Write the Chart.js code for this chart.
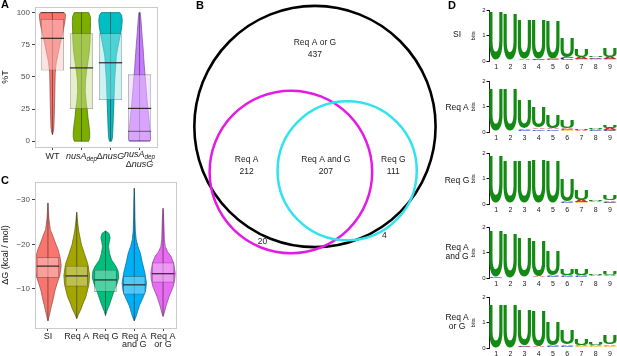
<!DOCTYPE html>
<html lang="en">
<head>
<meta charset="UTF-8" />
<title>Figure</title>
<script src="https://cdn.jsdelivr.net/npm/chart.js@4.4.0/dist/chart.umd.min.js"></script>
<style>
  body { margin: 0; background: #fff; font-family: "Liberation Sans", Arial, sans-serif; }
  #fig { position: relative; width: 617px; height: 356px; overflow: hidden; }
  canvas { position: absolute; }
  .tag { position: absolute; font-weight: bold; font-size: 11px; line-height: 11px; }
  .row { position: absolute; left: 437px; width: 40px; text-align: center; font-size: 8.5px; line-height: 8.5px; color: #111; }
</style>
</head>
<body>
<div id="fig">
  <canvas id="chartA" width="172" height="172" style="left:0;top:0"></canvas>
  <canvas id="chartC" width="180" height="184" style="left:0;top:172px"></canvas>
  <canvas id="chartB" width="270" height="260" style="left:185px;top:0"></canvas>
  <canvas id="logo0" width="147" height="68" style="left:470px;top:6px"></canvas>
  <canvas id="logo1" width="147" height="68" style="left:470px;top:77px"></canvas>
  <canvas id="logo2" width="147" height="68" style="left:470px;top:149px"></canvas>
  <canvas id="logo3" width="147" height="68" style="left:470px;top:223px"></canvas>
  <canvas id="logo4" width="147" height="68" style="left:470px;top:293px"></canvas>
  <div class="tag" style="left:1px;top:-1px">A</div>
  <div class="tag" style="left:196px;top:0">B</div>
  <div class="tag" style="left:1px;top:175px">C</div>
  <div class="tag" style="left:448px;top:0">D</div>
  <div class="row" style="top:30px">SI</div>
  <div class="row" style="top:103px">Req A</div>
  <div class="row" style="top:176px">Req G</div>
  <div class="row" style="top:243px">Req A<br>and G</div>
  <div class="row" style="top:313px">Req A<br>or G</div>
</div>
<script>
  // ---- panel A: %T by genotype ----
  const genotypes = ["WT", "*nusA*_dep_", "Δ*nusG*", "*nusA*_dep_\nΔ*nusG*"];
  const colorsA = ["#F8766D", "#7CAE00", "#00BFC4", "#C77CFF"];
  const q1A = [55, 25, 32, 0];
  const medA = [80, 57, 61, 25.5];
  const q3A = [95, 84, 84, 52];
  const minA = [5, 0, 0, 0];
  const maxA = [100, 100, 100, 100];
  const quantLinesA = [[100], [], [], [7.7]];
  // violin outlines: [value, relative density]
  const wtViolin = [[5,0],[8,0.08],[11,0.11],[20,0.14],[31,0.17],[42,0.19],[53,0.21],[61,0.29],[68,0.43],[76,0.59],[83.5,0.77],[91,0.92],[96,0.99],[98.5,1],[100,0.9]];
  const nusAViolin = [[0,0.55],[3,0.63],[7,0.63],[12,0.58],[18,0.5],[24,0.45],[30,0.36],[38,0.29],[46,0.3],[54,0.38],[62,0.5],[70,0.6],[78,0.66],[86,0.68],[93,0.7],[97,0.68],[100,0.55]];
  const nusGViolin = [[0,0.08],[3,0.15],[11,0.19],[20,0.22],[31,0.26],[40,0.29],[48,0.32],[57,0.38],[66,0.44],[74,0.58],[81,0.72],[88,0.85],[94,0.9],[98,0.85],[100,0.7]];
  const doubleViolin = [[0,0.78],[2,0.83],[6,0.82],[10,0.78],[16,0.73],[23,0.66],[31,0.58],[41,0.5],[51,0.42],[60,0.35],[68,0.3],[75,0.25],[81,0.2],[88,0.15],[94,0.11],[100,0.05]];
  const percentTicks = [0, 25, 50, 75, 100];

  // ---- panel C: dG by group ----
  const groups = ["SI", "Req A", "Req G", ["Req A", "and G"], ["Req A", "or G"]];
  const colorsC = ["#F8766D", "#A3A500", "#00BF7D", "#00B0F6", "#E76BF3"];
  const q1C = [-17.1, -15.2, -14.3, -12.9, -15.9];
  const medC = [-15.1, -12.9, -12.0, -10.9, -13.4];
  const q3C = [-12.5, -10.5, -9.3, -8.7, -11.4];
  const minC = [-29.3, -27.2, -23, -32.6, -28.1];
  const maxC = [-2.8, -3.3, -4, -2.8, -3.8];
  const siViolin = [[-29.3,0],[-27,0.04],[-25.5,0.08],[-23.3,0.18],[-21.8,0.38],[-20,0.6],[-18.8,0.77],[-17,0.92],[-15.2,1],[-13,0.9],[-11.3,0.7],[-9.5,0.52],[-7.5,0.38],[-6,0.25],[-4.6,0.15],[-3.5,0.06],[-2.8,0]];
  const reqAViolin = [[-27.2,0],[-25,0.07],[-23,0.15],[-21.8,0.23],[-20,0.35],[-17.9,0.58],[-15.5,0.85],[-13,0.97],[-11,0.92],[-8.3,0.7],[-6.5,0.45],[-5.3,0.3],[-4.2,0.12],[-3.3,0]];
  const reqGViolin = [[-23,0],[-22.5,0.25],[-21.5,0.35],[-20.5,0.28],[-19.5,0.23],[-18,0.3],[-16.5,0.46],[-15,0.8],[-14,0.95],[-12.5,1],[-11,0.85],[-9.1,0.6],[-7.5,0.42],[-6.2,0.27],[-5,0.1],[-4,0]];
  const andViolin = [[-32.6,0],[-30,0.03],[-26,0.05],[-23,0.08],[-21,0.15],[-19.5,0.28],[-18,0.46],[-16,0.6],[-13.6,0.8],[-11.3,0.92],[-9.5,0.85],[-8.3,0.7],[-6.2,0.38],[-3.9,0.15],[-2.8,0]];
  const orViolin = [[-28.1,0],[-26,0.05],[-23,0.08],[-21,0.1],[-19.5,0.17],[-18.3,0.35],[-17.3,0.6],[-15.8,0.8],[-13.5,0.92],[-12,0.88],[-10.5,0.77],[-8.3,0.46],[-6.2,0.23],[-4.5,0.08],[-3.8,0]];
  const dgTicks = [-30, -20, -10];

  // ---- panel B: Venn ----
  const vennSets = ["Req A or G", "Req A", "Req G"];
  const regionNames = ["Req A or G", "Req A", "Req A and G", "Req G", "", ""];
  const regionCounts = [437, 212, 207, 111, 20, 4];
  const vennCenters = [[0, 0], [-6.2, -11.7], [8.3, -11.4]];
  const regionPos = [[0, 21.5], [-17.6, -8.5], [2.8, -8.5], [20.2, -8.5], [-13.5, -29.8], [17.9, -28.2]];
  const vennColors = ["#000000", "#E41BE4", "#30E3EE"];

  // ---- panel D: sequence logos (bits per position) ----
  const logoRows = ["SI", "Req A", "Req G", "Req A and G", "Req A or G"];
  const positions = ["1", "2", "3", "4", "5", "6", "7", "8", "9"];
  const uBits = [
    [1.91, 1.82, 1.55, 1.54, 1.47, 0.77, 0.32, 0.05, 0.34],
    [1.65, 1.64, 1.12, 0.8, 0.5, 0.3, 0.04, 0.04, 0.1],
    [1.83, 1.63, 1.62, 1.69, 1.65, 0.88, 0.43, 0.03, 0.19],
    [1.78, 1.74, 1.54, 1.4, 0.98, 0.27, 0.24, 0.03, 0.16],
    [1.67, 1.67, 1.39, 1.37, 0.92, 0.55, 0.27, 0.08, 0.33]
  ];
  const aBits = [
    [0.02, 0.02, 0.03, 0.04, 0.04, 0.05, 0.08, 0.06, 0.08],
    [0.02, 0.02, 0.06, 0.07, 0.07, 0.06, 0.03, 0.06, 0.08],
    [0.01, 0.02, 0.02, 0.02, 0.02, 0.05, 0.08, 0.05, 0.06],
    [0.01, 0.01, 0.02, 0.03, 0.03, 0.06, 0.06, 0.04, 0.05],
    [0.01, 0.01, 0.03, 0.03, 0.05, 0.06, 0.06, 0.05, 0.07]
  ];
  const cBits = [
    [0.02, 0.02, 0.02, 0.03, 0.03, 0.08, 0.03, 0.03, 0.03],
    [0.01, 0.02, 0.05, 0.06, 0.06, 0.05, 0.01, 0.03, 0.04],
    [0.01, 0.01, 0.01, 0.01, 0.01, 0.03, 0.03, 0.02, 0.03],
    [0.03, 0.01, 0.02, 0.02, 0.06, 0.03, 0.03, 0.02, 0.02],
    [0.01, 0.01, 0.03, 0.02, 0.03, 0.04, 0.02, 0.02, 0.02]
  ];
  const gBits = [
    [0.01, 0.01, 0.03, 0.02, 0.03, 0.03, 0.06, 0.06, 0.06],
    [0.02, 0.02, 0.04, 0.04, 0.04, 0.06, 0.02, 0.04, 0.05],
    [0.02, 0.01, 0.02, 0.01, 0.02, 0.04, 0.06, 0.04, 0.05],
    [0.01, 0.01, 0.02, 0.02, 0.02, 0.04, 0.04, 0.04, 0.04],
    [0.01, 0.01, 0.02, 0.02, 0.03, 0.04, 0.05, 0.05, 0.05]
  ];

  Chart.defaults.font.family = '"Liberation Sans", Arial, sans-serif';
  const FONT = '"Liberation Sans", Arial, sans-serif';

  function rgb(hex) {
    const n = parseInt(hex.slice(1), 16);
    return [(n >> 16) & 255, (n >> 8) & 255, n & 255];
  }
  function shade(hex, f) {
    const [r, g, b] = rgb(hex);
    return `rgb(${(r * f) | 0},${(g * f) | 0},${(b * f) | 0})`;
  }
  function boxFill(hex) {
    const [r, g, b] = rgb(hex).map((c) => Math.round(c * 0.4 + 255 * 0.6));
    return `rgba(${r},${g},${b},0.5)`;
  }

  // frame round the plot + violins under the boxes
  function violinPlugin(profiles, colors, lows, highs, medians, extra, halfFrac) {
    return {
      id: "violins",
      beforeDatasetsDraw(chart) {
        const { ctx, chartArea: a, scales: { x, y } } = chart;
        const half = halfFrac * (x.getPixelForValue(2) - x.getPixelForValue(1));
        ctx.save();
        ctx.beginPath();
        ctx.rect(a.left, a.top, a.width, a.height);
        ctx.clip();
        profiles.forEach((prof, i) => {
          const cx = x.getPixelForValue(i + 1);
          ctx.beginPath();
          prof.forEach(([v, w]) => ctx.lineTo(cx + w * half, y.getPixelForValue(v)));
          for (let k = prof.length - 1; k >= 0; k--) {
            ctx.lineTo(cx - prof[k][1] * half, y.getPixelForValue(prof[k][0]));
          }
          ctx.closePath();
          ctx.fillStyle = colors[i];
          ctx.fill();
          ctx.strokeStyle = shade(colors[i], 0.6);
          ctx.lineWidth = 0.7;
          ctx.stroke();
          ctx.beginPath();
          ctx.moveTo(cx, y.getPixelForValue(lows[i]));
          ctx.lineTo(cx, y.getPixelForValue(highs[i]));
          ctx.strokeStyle = "rgba(30,30,30,0.75)";
          ctx.lineWidth = 0.7;
          ctx.stroke();
        });
        ctx.restore();
      },
      afterDatasetsDraw(chart) {
        const { ctx, chartArea: a, scales: { x, y } } = chart;
        const meta = chart.getDatasetMeta(0);
        ctx.save();
        meta.data.forEach((bar, i) => {
          const w = bar.width / 2;
          const cx = x.getPixelForValue(i + 1);
          ctx.beginPath();
          ctx.moveTo(cx - w, y.getPixelForValue(medians[i]));
          ctx.lineTo(cx + w, y.getPixelForValue(medians[i]));
          ctx.strokeStyle = "#2a2a2a";
          ctx.lineWidth = 1.2;
          ctx.stroke();
          (extra[i] || []).forEach((v) => {
            ctx.beginPath();
            ctx.moveTo(cx - w, y.getPixelForValue(v));
            ctx.lineTo(cx + w, y.getPixelForValue(v));
            ctx.strokeStyle = "rgba(40,40,40,0.8)";
            ctx.lineWidth = 0.8;
            ctx.stroke();
          });
        });
        ctx.strokeStyle = "#CACACA";
        ctx.lineWidth = 1;
        ctx.strokeRect(Math.round(a.left) + 0.5, Math.round(a.top) + 0.5, Math.round(a.width), Math.round(a.height));
        ctx.restore();
      },
    };
  }

  // x labels of panel A with italic and subscript parts
  function drawRich(ctx, text, cx, baseline, size) {
    const segs = text.split(/(\*[^*]+\*|_[^_]+_)/).filter(Boolean).map((s) => {
      if (s[0] === "*") return { t: s.slice(1, -1), font: `italic ${size}px ${FONT}`, dy: 0 };
      if (s[0] === "_") return { t: s.slice(1, -1), font: `italic ${size * 0.7}px ${FONT}`, dy: size * 0.25 };
      return { t: s, font: `${size}px ${FONT}`, dy: 0 };
    });
    let w = 0;
    segs.forEach((s) => { ctx.font = s.font; s.w = ctx.measureText(s.t).width; w += s.w; });
    let xx = cx - w / 2;
    segs.forEach((s) => { ctx.font = s.font; ctx.fillText(s.t, xx, baseline + s.dy); xx += s.w; });
  }
  const genotypeLabels = {
    id: "genotypeLabels",
    afterDraw(chart) {
      const { ctx, chartArea: a, scales: { x } } = chart;
      ctx.save();
      ctx.fillStyle = "#1a1a1a";
      ctx.textBaseline = "alphabetic";
      genotypes.forEach((g, i) => {
        const lines = g.split("\n");
        const base = lines.length > 1 ? a.bottom + 10 : a.bottom + 12;
        lines.forEach((ln, k) => drawRich(ctx, ln, x.getPixelForValue(i + 1), base + k * 9.5, 9));
      });
      ctx.restore();
    },
  };

  const pos = (n) => Array.from({ length: n }, (_, i) => i + 1);

  // ---------- chart A ----------
  new Chart(document.getElementById("chartA"), {
    type: "bar",
    data: {
      datasets: [{
        data: q1A.map((q, i) => ({ x: i + 1, y: [q, q3A[i]] })),
        backgroundColor: colorsA.map(boxFill),
        borderColor: "rgba(90,90,90,0.6)",
        borderWidth: 0.8,
        borderSkipped: false,
        barPercentage: 0.8,
        categoryPercentage: 1,
      }],
    },
    options: {
      animation: false, responsive: false, events: [],
      plugins: { legend: { display: false }, tooltip: { enabled: false } },
      layout: { padding: { top: 2, right: 15, left: 0, bottom: 0 } },
      scales: {
        x: {
          type: "linear", min: 0.4, max: 4.6, offset: false,
          afterBuildTicks: (s) => { s.ticks = pos(4).map((v) => ({ value: v })); },
          afterFit: (s) => { s.height = 25; },
          ticks: { display: false },
          grid: { drawOnChartArea: false, tickLength: 3, color: "#444", offset: false },
          border: { display: false },
        },
        y: {
          min: -4.5, max: 104.5,
          afterBuildTicks: (s) => { s.ticks = percentTicks.map((v) => ({ value: v })); },
          afterFit: (s) => { s.width = 35; },
          ticks: { font: { size: 8 }, color: "#4D4D4D", padding: 2 },
          grid: { drawOnChartArea: false, tickLength: 3, color: "#444" },
          border: { display: false },
          title: { display: true, text: "%T", font: { size: 9 }, color: "#111", padding: 0 },
        },
      },
    },
    plugins: [violinPlugin([wtViolin, nusAViolin, nusGViolin, doubleViolin], colorsA, minA, maxA, medA, quantLinesA, 0.45), genotypeLabels],
  });

  // ---------- chart C ----------
  new Chart(document.getElementById("chartC"), {
    type: "bar",
    data: {
      datasets: [{
        data: q1C.map((q, i) => ({ x: i + 1, y: [q, q3C[i]] })),
        backgroundColor: colorsC.map(boxFill),
        borderColor: "rgba(70,70,70,0.65)",
        borderWidth: 0.8,
        borderSkipped: false,
        barPercentage: 0.78,
        categoryPercentage: 1,
      }],
    },
    options: {
      animation: false, responsive: false, events: [],
      plugins: { legend: { display: false }, tooltip: { enabled: false } },
      layout: { padding: { top: 10, right: 4, left: 0, bottom: 0 } },
      scales: {
        x: {
          type: "linear", min: 0.55, max: 5.45, offset: false,
          afterBuildTicks: (s) => { s.ticks = pos(5).map((v) => ({ value: v })); },
          afterFit: (s) => { s.height = 28; },
          ticks: { callback: (v) => groups[v - 1], font: { size: 9, lineHeight: 0.85 }, color: "#1a1a1a", padding: 2, maxRotation: 0, autoSkip: false },
          grid: { drawOnChartArea: false, tickLength: 3, color: "#444", offset: false },
          border: { display: false },
        },
        y: {
          reverse: true, min: -34, max: -1.2,
          afterBuildTicks: (s) => { s.ticks = dgTicks.map((v) => ({ value: v })); },
          afterFit: (s) => { s.width = 35; },
          ticks: { callback: (v) => "\u2212" + Math.abs(v), font: { size: 8 }, color: "#4D4D4D", padding: 2 },
          grid: { drawOnChartArea: false, tickLength: 3, color: "#444" },
          border: { display: false },
          title: { display: true, text: "ΔG (kcal / mol)", font: { size: 9 }, color: "#111", padding: 0 },
        },
      },
    },
    plugins: [violinPlugin([siViolin, reqAViolin, reqGViolin, andViolin, orViolin], colorsC, minC, maxC, medC, [], 0.46)],
  });

  // ---------- chart B (Venn, circle area ~ set size) ----------
  const setTotals = [
    regionCounts[0] + regionCounts[1] + regionCounts[2] + regionCounts[3],
    regionCounts[1] + regionCounts[2] + regionCounts[4],
    regionCounts[2] + regionCounts[3] + regionCounts[5],
  ];
  const vennPlugin = {
    id: "venn",
    afterDatasetsDraw(chart) {
      const { ctx, scales: { x, y } } = chart;
      const unit = x.getPixelForValue(1) - x.getPixelForValue(0);
      ctx.save();
      setTotals.forEach((n, i) => {
        const pt = chart.getDatasetMeta(i).data[0];
        ctx.beginPath();
        ctx.arc(pt.x, pt.y, Math.sqrt(n) * unit, 0, Math.PI * 2);
        ctx.strokeStyle = vennColors[i];
        ctx.lineWidth = i === 0 ? 2.6 : 2.5;
        ctx.stroke();
      });
      ctx.fillStyle = "#1a1a1a";
      ctx.font = `8.5px ${FONT}`;
      ctx.textAlign = "center";
      ctx.textBaseline = "middle";
      regionCounts.forEach((c, k) => {
        const px = x.getPixelForValue(regionPos[k][0]);
        const py = y.getPixelForValue(regionPos[k][1]);
        if (regionNames[k]) {
          ctx.fillText(regionNames[k], px, py);
          ctx.fillText(String(c), px, py + 12);
        } else {
          ctx.fillText(String(c), px, py);
        }
      });
      ctx.restore();
    },
  };
  new Chart(document.getElementById("chartB"), {
    type: "scatter",
    data: {
      datasets: vennSets.map((name, i) => ({
        label: name,
        data: [{ x: vennCenters[i][0], y: vennCenters[i][1] }],
        pointRadius: 0,
      })),
    },
    options: {
      animation: false, responsive: false, events: [],
      plugins: { legend: { display: false }, tooltip: { enabled: false } },
      layout: { padding: 0 },
      scales: {
        x: { display: false, min: -33.5, max: 36.1 },
        y: { display: false, min: -34.4, max: 32.6 },
      },
    },
    plugins: [vennPlugin],
  });

  // ---------- chart D (logos) ----------
  const letterPlugin = {
    id: "letters",
    afterDatasetsDraw(chart) {
      const { ctx } = chart;
      chart.data.datasets.forEach((ds, i) => {
        chart.getDatasetMeta(i).data.forEach((bar) => {
          const { x, y, base, width } = bar.getProps(["x", "y", "base", "width"], true);
          const h = Math.abs(base - y);
          if (h < 0.4) return;
          ctx.save();
          ctx.font = `bold 100px ${FONT}`;
          const m = ctx.measureText(ds.letter);
          const gw = m.actualBoundingBoxLeft + m.actualBoundingBoxRight;
          const gh = m.actualBoundingBoxAscent + m.actualBoundingBoxDescent;
          ctx.translate(x - width / 2, Math.min(y, base));
          ctx.scale(width / gw, h / gh);
          ctx.fillStyle = ds.color;
          ctx.fillText(ds.letter, m.actualBoundingBoxLeft, m.actualBoundingBoxAscent);
          ctx.restore();
        });
      });
    },
  };
  const letterSets = [
    { letter: "G", color: "#F5A800", bits: gBits },
    { letter: "C", color: "#1428C8", bits: cBits },
    { letter: "A", color: "#D82222", bits: aBits },
    { letter: "U", color: "#138A13", bits: uBits },
  ];
  logoRows.forEach((row, r) => {
    new Chart(document.getElementById("logo" + r), {
      type: "bar",
      data: {
        labels: positions,
        datasets: letterSets.map((l) => ({
          label: l.letter,
          letter: l.letter,
          color: l.color,
          data: l.bits[r],
          backgroundColor: "rgba(0,0,0,0)",
          borderWidth: 0,
          barPercentage: 0.94,
          categoryPercentage: 1,
        })),
      },
      options: {
        animation: false, responsive: false, events: [],
        plugins: { legend: { display: false }, tooltip: { enabled: false } },
        layout: { padding: { top: 4, right: 0, left: 0, bottom: 0 } },
        scales: {
          x: {
            stacked: true,
            afterFit: (s) => { s.height = 13; },
            ticks: { font: { size: 7 }, color: "#1a1a1a", padding: 2 },
            grid: { display: false, drawTicks: false },
            border: { display: false },
          },
          y: {
            stacked: true, min: 0, max: 2,
            afterFit: (s) => { s.width = 19; },
            ticks: { stepSize: 1, font: { size: 6 }, color: "#1a1a1a", padding: 1 },
            grid: { drawOnChartArea: false, tickLength: 2.5, color: "#000" },
            border: { display: true, color: "#000", width: 0.9 },
            title: { display: true, text: "bits", font: { size: 6 }, color: "#1a1a1a", padding: 0 },
          },
        },
      },
      plugins: [letterPlugin],
    });
  });
</script>
</body>
</html>
